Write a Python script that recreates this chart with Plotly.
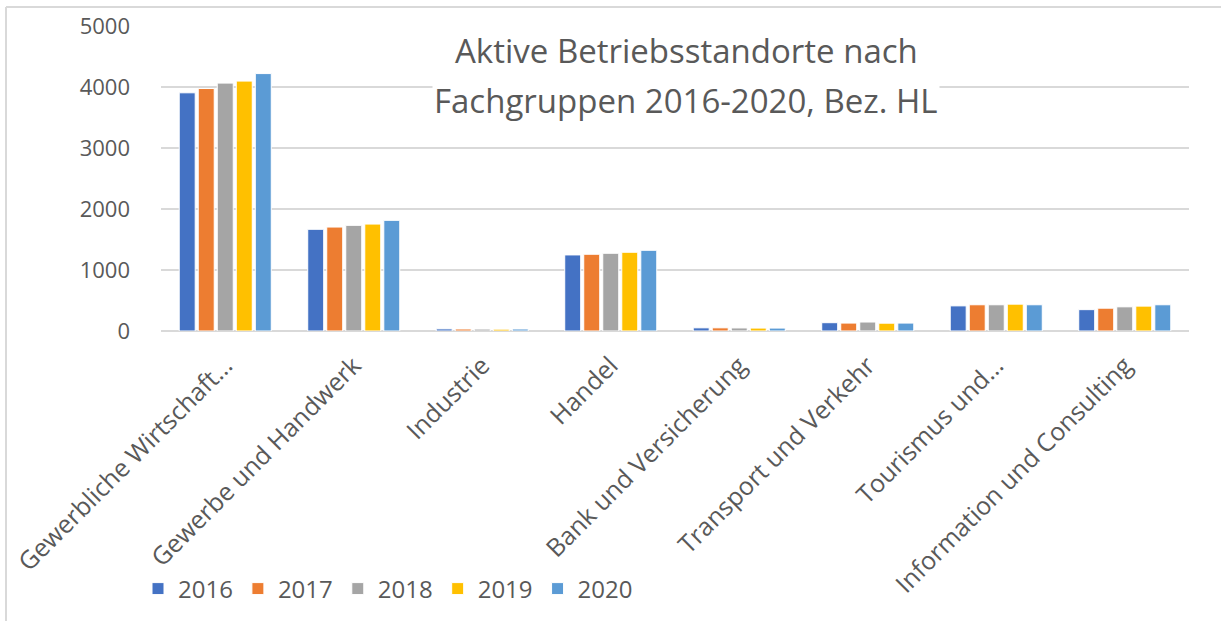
import plotly.graph_objects as go

categories = [
    "Gewerbliche Wirtschaft…",
    "Gewerbe und Handwerk",
    "Industrie",
    "Handel",
    "Bank und Versicherung",
    "Transport und Verkehr",
    "Tourismus und…",
    "Information und Consulting",
]
years = ["2016", "2017", "2018", "2019", "2020"]
v2016 = [3905, 1667, 35, 1247, 52, 136, 412, 350]
v2017 = [3975, 1704, 33, 1258, 52, 130, 430, 374]
v2018 = [4064, 1732, 32, 1274, 50, 147, 430, 396]
v2019 = [4097, 1753, 30, 1291, 48, 128, 440, 408]
v2020 = [4220, 1814, 33, 1323, 48, 130, 430, 430]
series = [v2016, v2017, v2018, v2019, v2020]
colors = ["#4472C4", "#ED7D31", "#A5A5A5", "#FFC000", "#5B9BD5"]
yticks = [0, 1000, 2000, 3000, 4000, 5000]
title_lines = ["Aktive Betriebsstandorte nach", "Fachgruppen 2016-2020, Bez. HL"]

FONT = "Open Sans"
GREY = "#595959"
GRID = "#d9d9d9"

fig = go.Figure()
for name, vals, col in zip(years, series, colors):
    fig.add_trace(go.Bar(
        name=name, x=categories, y=vals,
        marker=dict(color=col, line=dict(color="white", width=1)),
    ))

# plot area in pixels: x 161..1189, y 26..331
L, R, T, B = 161, 32, 26, 290
W, H = 1221, 621
pw = W - L - R
ph = H - T - B

def px_x(x):
    return (x - L) / pw

def px_y(y):
    return (H - B - y) / ph

fig.update_layout(
    width=W, height=H,
    margin=dict(l=L, r=R, t=T, b=B, autoexpand=False),
    paper_bgcolor="white", plot_bgcolor="white",
    font=dict(family=FONT, color=GREY),
    barmode="group", bargap=0.26, bargroupgap=0.16,
    showlegend=True,
    legend=dict(
        orientation="h", x=px_x(138), y=px_y(589),
        xanchor="left", yanchor="middle",
        font=dict(size=24, color=GREY, family=FONT),
        itemwidth=30, traceorder="normal",
    ),
    xaxis=dict(
        tickangle=-45, tickfont=dict(size=25, color=GREY, family=FONT),
        showgrid=False, showline=False, ticks="", ticklabelstandoff=14,
    ),
    yaxis=dict(
        range=[0, 5000], tickvals=yticks,
        tickfont=dict(size=22, color=GREY, family=FONT),
        showgrid=True, gridcolor=GRID, gridwidth=2,
        zeroline=True, zerolinecolor=GRID, zerolinewidth=2,
        showline=False, ticks="", ticklabelstandoff=30,
    ),
    annotations=[
        dict(text=title_lines[0], xref="paper", yref="paper",
             x=px_x(686), y=px_y(50), xanchor="center", yanchor="middle",
             showarrow=False, bgcolor="white",
             font=dict(size=33, color=GREY, family=FONT)),
        dict(text=title_lines[1], xref="paper", yref="paper",
             x=px_x(686), y=px_y(100), xanchor="center", yanchor="middle",
             showarrow=False, bgcolor="white",
             font=dict(size=33, color=GREY, family=FONT)),
    ],
    shapes=[
        dict(type="line", xref="paper", yref="paper",
             x0=px_x(6), x1=px_x(6), y0=px_y(7), y1=px_y(625),
             line=dict(color=GRID, width=2)),
        dict(type="line", xref="paper", yref="paper",
             x0=px_x(6), x1=px_x(1225), y0=px_y(7), y1=px_y(7),
             line=dict(color=GRID, width=2)),
    ],
)

fig.write_html(
    "out.html",
    config={"displayModeBar": False},
    post_script="document.body.style.margin='0';document.body.style.overflow='hidden';",
)
